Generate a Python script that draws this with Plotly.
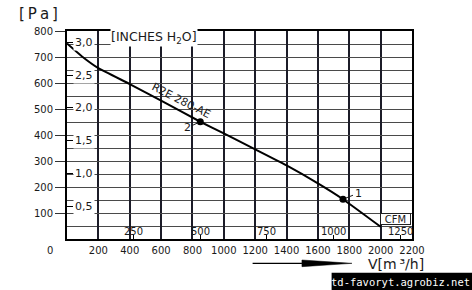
import plotly.graph_objects as go

# ---- data ----
flow_m3h = [0, 100, 200, 400, 600, 850, 1000, 1200, 1400, 1600, 1760, 2000]
pressure_pa = [752, 700, 657, 596, 532, 451, 406, 345, 283, 214, 153, 47]

point_flow = [850, 1760]
point_pressure = [451, 153]
point_labels = ["2", "1"]

x_ticks = [200, 400, 600, 800, 1000, 1200, 1400, 1600, 1800, 2000, 2200]
y_ticks = [100, 200, 300, 400, 500, 600, 700, 800]

inch_ticks = [0.5, 1.0, 1.5, 2.0, 2.5, 3.0]
inch_labels = ["0,5", "1,0", "1,5", "2,0", "2,5", "3,0"]

cfm_ticks = [250, 500, 750, 1000, 1250]
cfm_labels = ["250", "500", "750", "1000", "1250"]

PA_PER_INCH = 252.0      # scale of the inch axis as drawn
M3H_PER_CFM = 1.699

X_MAX = 2200
Y_MAX = 800

FONT = "DejaVu Sans"
INK = "#1a1a1a"

fig = go.Figure()

# main curve
fig.add_trace(go.Scatter(
    x=flow_m3h, y=pressure_pa, mode="lines",
    line=dict(color="black", width=2, shape="spline", smoothing=0.4),
    hoverinfo="skip", showlegend=False))

# operating points
fig.add_trace(go.Scatter(
    x=point_flow, y=point_pressure, mode="markers",
    marker=dict(color="black", size=7, symbol="circle"),
    hoverinfo="skip", showlegend=False))

# helper trace on secondary (CFM / inch) axes so they render
fig.add_trace(go.Scatter(
    x=[v / M3H_PER_CFM for v in flow_m3h],
    y=[p / PA_PER_INCH for p in pressure_pa],
    xaxis="x2", yaxis="y2", mode="lines", opacity=0,
    line=dict(width=1), hoverinfo="skip", showlegend=False))

grid_v = "#1c1c28"
grid_h = "#4a4a4a"

fig.update_layout(
    width=472, height=290, autosize=False,
    margin=dict(l=67, r=60, t=31, b=51),
    paper_bgcolor="white", plot_bgcolor="white",
    font=dict(family=FONT, size=10, color=INK),
    xaxis=dict(
        range=[0, X_MAX], tickvals=x_ticks, ticks="",
        showgrid=True, gridcolor=grid_v, gridwidth=1.8,
        zeroline=False, showline=True, linecolor="black", linewidth=2,
        mirror=True, ticklabelstandoff=1,
        tickfont=dict(family=FONT, size=10, color=INK),
    ),
    yaxis=dict(
        range=[0, Y_MAX], tickvals=y_ticks, ticks="outside", ticklen=10,
        tickwidth=1.3, tickcolor="#333",
        showgrid=True, gridcolor=grid_h, gridwidth=1.4,
        minor=dict(dtick=50, tick0=0, showgrid=True, gridcolor=grid_h,
                   gridwidth=1.4, ticks=""),
        zeroline=False, showline=True, linecolor="black", linewidth=2,
        mirror=True,
        tickfont=dict(family=FONT, size=10, color=INK),
    ),
    xaxis2=dict(
        overlaying="x", anchor="y", side="bottom",
        range=[0, X_MAX / M3H_PER_CFM], tickvals=cfm_ticks,
        ticks="inside", ticklen=4, tickwidth=1.3, tickcolor="black",
        showticklabels=False, showgrid=False, zeroline=False, showline=False,
    ),
    yaxis2=dict(
        overlaying="y", anchor="x", side="left",
        range=[0, Y_MAX / PA_PER_INCH], tickvals=inch_ticks,
        ticks="inside", ticklen=6, tickwidth=1.3, tickcolor="black",
        showticklabels=False, showgrid=False, zeroline=False, showline=False,
    ),
)

ann = []

# inch labels (inside, left)
for v, t in zip(inch_ticks, inch_labels):
    ann.append(dict(x=0.018, xref="paper", y=v, yref="y2", text=t,
                    xanchor="left", yanchor="middle", showarrow=False,
                    bgcolor="white", borderpad=1,
                    font=dict(family=FONT, size=11, color=INK)))

# CFM labels (inside, bottom)
for v, t in zip(cfm_ticks, cfm_labels):
    ann.append(dict(x=v, xref="x2", y=0.034, yref="paper", text=t,
                    xanchor="center", yanchor="middle", showarrow=False,
                    font=dict(family=FONT, size=10, color=INK)))

# boxed unit labels
ann.append(dict(x=0.251, y=0.971, xref="paper", yref="paper",
                xanchor="center", yanchor="middle",
                text="[INCHES H<sub>2</sub>O]", showarrow=False,
                bgcolor="white", borderpad=0,
                font=dict(family=FONT, size=12.5, color=INK)))
ann.append(dict(x=0.953, y=0.094, xref="paper", yref="paper",
                xanchor="center", yanchor="middle",
                text="CFM", showarrow=False, bgcolor="white",
                bordercolor="#222", borderwidth=1, borderpad=0,
                width=29, height=10,
                font=dict(family=FONT, size=10, color=INK)))

# curve name
ann.append(dict(x=725, y=532, xref="x", yref="y", text="R2E 280-AE",
                xanchor="center", yanchor="middle",
                textangle=27, showarrow=False,
                font=dict(family=FONT, size=11, color=INK)))

# point labels
offsets = [(-13, 6), (15, -6)]
for fx, py, t, (ax, ay) in zip(point_flow, point_pressure, point_labels, offsets):
    ann.append(dict(x=fx, y=py, xref="x", yref="y", text=t,
                    showarrow=True, arrowhead=0, arrowwidth=1,
                    arrowcolor=INK, ax=ax, ay=ay, standoff=3,
                    font=dict(family=FONT, size=11, color=INK)))

# axis unit titles
ann.append(dict(x=-0.084, y=1.082, xref="paper", yref="paper",
                xanchor="center", yanchor="middle",
                text="[\u2009P\u2009a\u2009]", showarrow=False,
                font=dict(family=FONT, size=15, color=INK)))
ann.append(dict(x=0.955, y=-0.122, xref="paper", yref="paper",
                xanchor="center", yanchor="middle",
                text="V[m\u2009³/h]", showarrow=False,
                font=dict(family=FONT, size=14, color=INK)))
ann.append(dict(x=-0.049, y=-0.053, xref="paper", yref="paper",
                xanchor="center", yanchor="middle",
                text="0", showarrow=False,
                font=dict(family=FONT, size=10, color=INK)))

# watermark
ann.append(dict(x=0.9675, y=-0.208, xref="paper", yref="paper",
                xanchor="center", yanchor="middle",
                text="td-favoryt.agrobiz.net", showarrow=False,
                font=dict(family="DejaVu Sans Mono", size=10.5, color="white")))

fig.update_layout(annotations=ann)

shapes = [
    # arrow shaft
    dict(type="line", xref="paper", yref="paper",
         x0=0.538, x1=0.681, y0=-0.117, y1=-0.117,
         line=dict(color="black", width=1.3)),
    # arrow wedge
    dict(type="path", xref="paper", yref="paper",
         path="M 0.681,-0.101 L 0.826,-0.117 L 0.681,-0.133 Z",
         fillcolor="black", line=dict(color="black", width=0.5)),
    # watermark box
    dict(type="rect", xref="paper", yref="paper",
         x0=0.767, x1=1.18, y0=-0.25, y1=-0.162,
         fillcolor="black", line=dict(width=0), layer="below"),
]
fig.update_layout(shapes=shapes)

fig.write_html("out.html")
